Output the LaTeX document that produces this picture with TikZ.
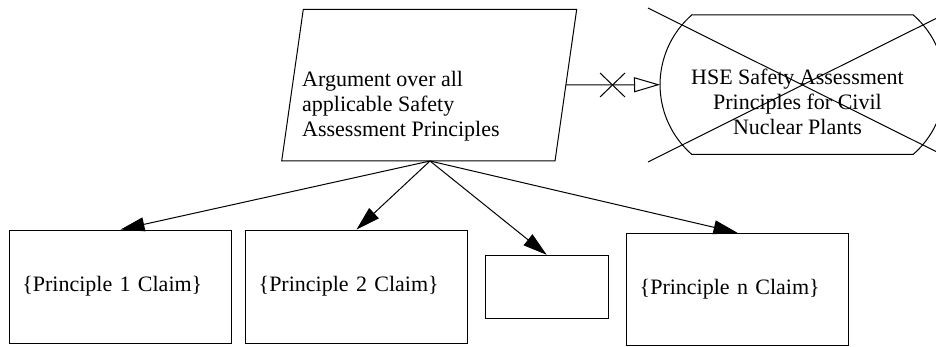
\documentclass[tikz,border=0pt]{standalone}
\usepackage{fontspec}
\setmainfont{Liberation Serif}
\usetikzlibrary{arrows.meta,calc}
\begin{document}
\begin{tikzpicture}[x=1pt,y=-1pt,line width=1pt,
  txt/.style={font=\fontsize{22}{25}\selectfont},
  claim/.style={draw,txt,inner xsep=13pt,inner ysep=0pt,align=left,minimum height=113.3pt},
  solid arrow/.style={-{Triangle[length=24pt,width=14pt]}},
  ctx arrow/.style={-{Triangle[open,length=26pt,width=15pt]}}]
\useasboundingbox (0,0) rectangle (936,347);
\clip (0,0) rectangle (936,347);
% strategy (parallelogram)
\coordinate (pTL) at (303.3,9.3);
\coordinate (pTR) at (576.7,9.3);
\coordinate (pBR) at (555,161);
\coordinate (pBL) at (281.7,161);
\coordinate (apex) at (430,161);
\coordinate (pE) at (566,85);
\draw (pTL) -- (pTR) -- (pBR) -- (pBL) -- cycle;
\node[txt,anchor=west,inner sep=0pt,align=left] (arg) at (301.7,106.5)
  {Argument over all\\applicable Safety\\Assessment Principles};
% context (stadium)
\coordinate (ctxW) at (660,84.7);
\draw (691.7,15) -- (913.3,15) arc[start angle=48.9,end angle=-48.9,radius=92.4pt]
  -- (691.7,154.3) arc[start angle=228.9,end angle=131.1,radius=92.4pt] -- cycle;
\node[txt,align=center,inner sep=0pt] (ctx) at (797.5,101.5)
  {HSE Safety Assessment\\Principles for Civil\\Nuclear Plants};
\draw (648,8) -- (957,162);
\draw (648,162) -- (957,8);
% in-context-of connector with X mark
\draw[ctx arrow] (pE) -- (ctxW);
\coordinate (xm) at (612.5,85);
\draw ($(xm)+(-12.5,-12)$) -- ($(xm)+(12.5,12)$);
\draw ($(xm)+(-12.5,12)$) -- ($(xm)+(12.5,-12)$);
% claims
\node[claim,text width=196.4pt] (b1) at (120.5,286.7) {\{Principle 1 Claim\}};
\node[claim,text width=195.6pt] (b2) at (356.5,286.7) {\{Principle 2 Claim\}};
\node[draw,minimum width=123.3pt,minimum height=63.4pt,inner sep=0pt] (b3) at (546.7,287) {};
\node[claim,text width=195.6pt,minimum height=112.4pt] (b4) at (737.5,289.5) {\{Principle n Claim\}};
\draw[solid arrow] (apex) -- (b1.north);
\draw[solid arrow] (apex) -- (b2.north);
\draw[solid arrow] (apex) -- (b3.north);
\draw[solid arrow] (apex) -- (b4.north);
\end{tikzpicture}
\end{document}
